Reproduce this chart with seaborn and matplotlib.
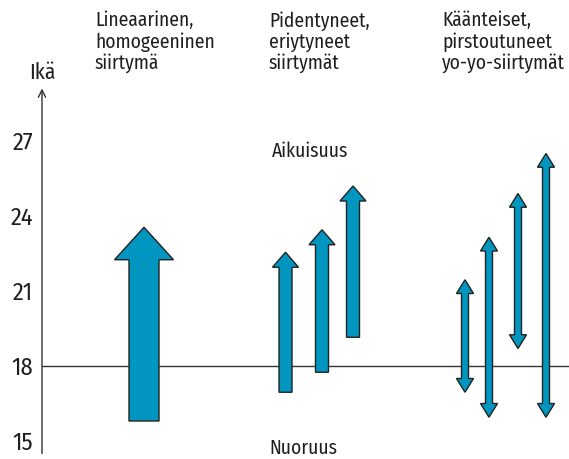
import matplotlib
matplotlib.use("Agg")
import matplotlib.pyplot as plt
from matplotlib.patches import Polygon
import seaborn as sns

# --- data (ages) ---
group_titles = ["Lineaarinen,\nhomogeeninen\nsiirtymä",
                "Pidentyneet,\neriytyneet\nsiirtymät",
                "Käänteiset,\npirstoutuneet\nyo-yo-siirtymät"]
linear_start = [15.8]
linear_end = [23.55]
extended_start = [16.95, 17.75, 19.15]
extended_end = [22.55, 23.45, 25.2]
yoyo_low = [16.95, 15.95, 18.7, 15.95]
yoyo_high = [21.45, 23.15, 24.9, 26.5]
age_ticks = [15, 18, 21, 24, 27]
adult_label = "Aikuisuus"
youth_label = "Nuoruus"
axis_label = "Ikä"

# --- layout (x in pixel-like units) ---
W, H = 569, 459
x_linear = [144]
x_extended = [285.5, 322, 353]
x_yoyo = [465, 489, 518, 546]
FILL = "#0096c0"
EDGE = "#222222"
TXT = "#1e1e1e"

sns.set_theme(style="white")
plt.rcParams["font.family"] = ["Fira Sans Condensed", "Roboto Condensed",
                               "Liberation Sans", "DejaVu Sans"]

fig = plt.figure(figsize=(W / 100, H / 100), dpi=100)
ax = fig.add_axes([42 / W, (H - 455) / H, (W - 42) / W, (455 - 60) / H])
ax.set_xlim(42, W)
ax.set_ylim(18 - (455 - 366) / 25, 18 + (366 - 60) / 25)
sns.despine(ax=ax, left=True, bottom=True)


def arrow(x, y0, y1, shaft, head_w, head_len, double=False):
    s, h = shaft / 2, head_w / 2
    top = [(x + s, y1 - head_len), (x + h, y1 - head_len), (x, y1),
           (x - h, y1 - head_len), (x - s, y1 - head_len)]
    if double:
        bot = [(x - s, y0 + head_len), (x - h, y0 + head_len), (x, y0),
               (x + h, y0 + head_len), (x + s, y0 + head_len)]
    else:
        bot = [(x - s, y0), (x + s, y0)]
    ax.add_patch(Polygon(top + bot, closed=True, facecolor=FILL,
                         edgecolor=EDGE, linewidth=1.0, zorder=3))


ax.axhline(18, color="#333333", linewidth=1.0, zorder=1)

for x, a, b in zip(x_linear, linear_start, linear_end):
    arrow(x, a, b, 30, 59, 1.3)
for x, a, b in zip(x_extended, extended_start, extended_end):
    arrow(x, a, b, 13, 26, 0.6)
for x, a, b in zip(x_yoyo, yoyo_low, yoyo_high):
    arrow(x, a, b, 7, 17, 0.55, double=True)

# y axis with open arrow head
ax.annotate("", xy=(42, 29.1), xytext=(42, 14.5),
            arrowprops=dict(arrowstyle="->", color="#333333", lw=1.0,
                            mutation_scale=13, shrinkA=0, shrinkB=0),
            annotation_clip=False)

ax.set_yticks(age_ticks)
ax.set_yticklabels([str(t) for t in age_ticks], fontsize=17.5, color=TXT)
ax.tick_params(axis="y", length=0, pad=6.5)
ax.set_xticks([])
ax.grid(False)

ax.text(310, 26.6, adult_label, ha="center", va="center", fontsize=14, color=TXT)
ax.text(303, 14.7, youth_label, ha="center", va="center", fontsize=14, color=TXT)
fig.text(42 / W, 1 - 73 / H, axis_label, ha="center", va="center", fontsize=15.5, color=TXT)

for xt, t in zip([95, 269, 442], group_titles):
    fig.text(xt / W, 1 - 11 / H, t, ha="left", va="top", fontsize=14,
             color=TXT, linespacing=1.1)

fig.savefig("out.png", dpi=100)
